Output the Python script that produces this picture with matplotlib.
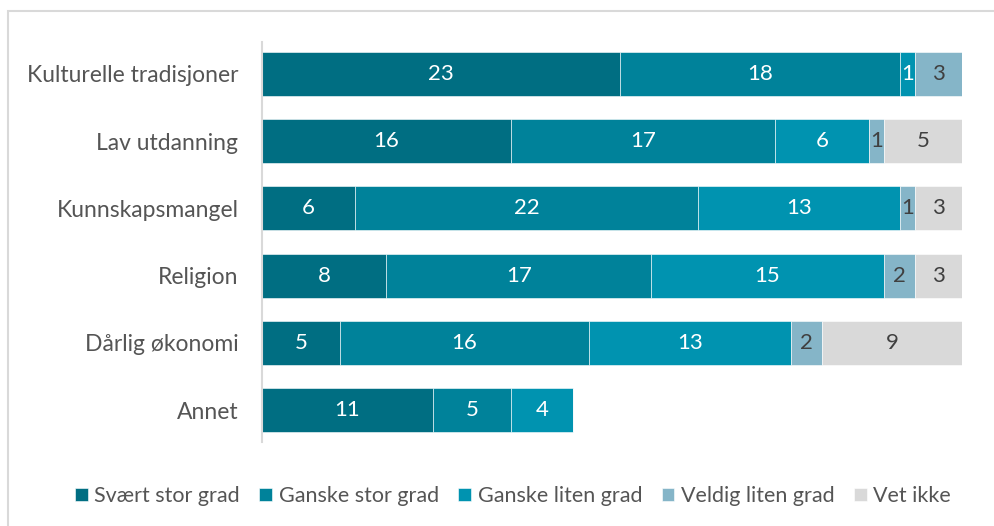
import matplotlib
matplotlib.use("Agg")
import matplotlib.pyplot as plt
import numpy as np
from matplotlib.patches import Rectangle

plt.rcParams['font.family'] = ['Lato', 'DejaVu Sans']

categories = ["Kulturelle tradisjoner", "Lav utdanning", "Kunnskapsmangel",
              "Religion", "Dårlig økonomi", "Annet"]
series_names = ["Svært stor grad", "Ganske stor grad", "Ganske liten grad",
                "Veldig liten grad", "Vet ikke"]
svaert_stor = [23, 16, 6, 8, 5, 11]
ganske_stor = [18, 17, 22, 17, 16, 5]
ganske_liten = [1, 6, 13, 15, 13, 4]
veldig_liten = [3, 1, 1, 2, 2, 0]
vet_ikke = [0, 5, 3, 3, 9, 0]

colors = ["#006e82", "#00829a", "#0093b0", "#85b5c8", "#d9d9d9"]
text_colors = ["white", "white", "white", "#404040", "#404040"]

series = [svaert_stor, ganske_stor, ganske_liten, veldig_liten, vet_ikke]

fig = plt.figure(figsize=(9.94, 5.26), dpi=100)
W, H = 994, 526
ax = fig.add_axes([262 / W, 1 - 442 / H, 700 / W, 400 / H])

y = np.arange(len(categories))
left = np.zeros(len(categories))
for vals, col, tc, name in zip(series, colors, text_colors, series_names):
    vals = np.array(vals, dtype=float)
    ax.barh(y, vals, left=left, height=0.655, color=col, label=name,
            edgecolor='white', linewidth=0.4)
    for yi, (l, v) in enumerate(zip(left, vals)):
        if v > 0:
            ax.text(l + v / 2, yi, f"{int(v)}", ha='center', va='center',
                    color=tc, fontsize=16)
    left += vals

ax.set_xlim(0, 45)
ax.set_ylim(5.476, -0.476)
ax.set_yticks(y)
ax.set_yticklabels(categories, fontsize=16.5, color="#555555")
ax.tick_params(axis='y', length=0, pad=17)
ax.set_xticks([])
for s in ['top', 'right', 'bottom']:
    ax.spines[s].set_visible(False)
ax.spines['left'].set_color('#d9d9d9')
ax.spines['left'].set_linewidth(1.5)

# outer frame
fig.add_artist(Rectangle((8 / W, -0.05), 1.2, 1 - 11 / H + 0.05,
                         transform=fig.transFigure, fill=False,
                         edgecolor='#d9d9d9', linewidth=1.5))

handles, labels = ax.get_legend_handles_labels()
fig.legend(handles, labels, loc='center', bbox_to_anchor=(513 / W, 1 - 496 / H),
           ncol=5, frameon=False, fontsize=15.5, handlelength=0.6,
           handleheight=0.6, handletextpad=0.3, columnspacing=0.9,
           labelcolor='#555555')

fig.savefig("out.png", dpi=100, facecolor='white')
